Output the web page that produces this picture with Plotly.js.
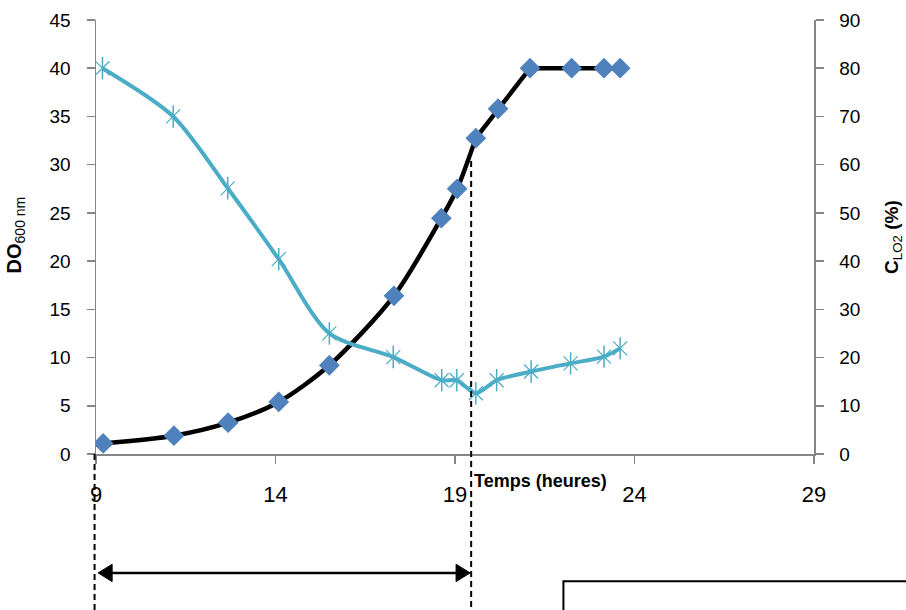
<!DOCTYPE html>
<html>
<head>
<meta charset="utf-8">
<script src="https://cdn.plot.ly/plotly-3.0.1.min.js"></script>
<style>html,body{margin:0;padding:0;background:#fff;}#chart{width:906px;height:610px;}</style>
</head>
<body>
<div id="chart"></div>
<script>
// Time (hours)
const timeDO = [9.2, 11.17, 12.68, 14.09, 15.5, 17.3, 18.62, 19.06, 19.58, 20.2, 21.09, 22.25, 23.15, 23.6];
// Optical density DO 600 nm (left axis)
const valuesDO = [1.1, 1.9, 3.25, 5.4, 9.2, 16.4, 24.45, 27.5, 32.75, 35.8, 40, 40, 40, 40];
// Dissolved oxygen CLO2 % (right axis)
const timeO2 = [9.18, 11.15, 12.67, 14.09, 15.5, 17.28, 18.63, 19.05, 19.58, 20.16, 21.12, 22.22, 23.15, 23.6];
const valuesO2 = [80, 70, 55.1, 40.4, 25, 20.1, 15.3, 15.3, 12.6, 15.3, 17.1, 18.8, 20.2, 21.9];
const xTicks = [9, 14, 19, 24, 29];

const nSmooth = 9; // smoothed part of the DO curve
const traces = [
  {x: timeO2, y: valuesO2, yaxis: 'y2', mode: 'lines', line: {color: '#4bacc6', width: 4, shape: 'spline', smoothing: 0.8}, hoverinfo: 'skip'},
  {x: timeO2, y: valuesO2, yaxis: 'y2', mode: 'markers', marker: {symbol: 'x-thin-open', size: 14, color: '#4bacc6', line: {color: '#5ec3dc', width: 1.2}}},
  {x: timeO2, y: valuesO2, yaxis: 'y2', mode: 'markers', marker: {symbol: 'line-ns-open', size: 16, color: '#4bacc6', line: {color: '#4bacc6', width: 1.5}}},
  {x: timeDO.slice(0, nSmooth), y: valuesDO.slice(0, nSmooth), mode: 'lines', line: {color: '#000', width: 4.5, shape: 'spline', smoothing: 0.8}},
  {x: timeDO.slice(nSmooth - 1), y: valuesDO.slice(nSmooth - 1), mode: 'lines', line: {color: '#000', width: 4.5}},
  {x: timeDO, y: valuesDO, mode: 'markers', marker: {symbol: 'diamond', size: 16, color: '#4f81bd'}}
];

const axisCommon = {showline: true, linecolor: '#868686', linewidth: 1.5, ticks: 'outside', ticklen: 8, tickcolor: '#868686', tickwidth: 1.5, showgrid: false, zeroline: false, fixedrange: true};

const layout = {
  width: 906, height: 610,
  margin: {l: 96, r: 92, t: 20, b: 156},
  paper_bgcolor: '#fff', plot_bgcolor: '#fff',
  showlegend: false,
  xaxis: Object.assign({}, axisCommon, {range: [9, 29], tickvals: xTicks, ticktext: xTicks.map(String), ticklabelstandoff: 12,
    tickfont: {family: '"Liberation Sans", sans-serif', size: 22, color: '#000'}}),
  yaxis: Object.assign({}, axisCommon, {range: [0, 45], dtick: 5, tick0: 0, ticklabelstandoff: 12,
    tickfont: {family: '"Liberation Sans", sans-serif', size: 19, color: '#000'}}),
  yaxis2: Object.assign({}, axisCommon, {range: [0, 90], dtick: 10, tick0: 0, overlaying: 'y', side: 'right', ticklabelstandoff: 12,
    tickfont: {family: '"Liberation Sans", sans-serif', size: 19, color: '#000'}}),
  annotations: [
    {text: '<b>Temps (heures)</b>', xref: 'paper', yref: 'paper', x: 0.523, y: -0.062, xanchor: 'left', yanchor: 'middle', showarrow: false,
      font: {family: '"Liberation Sans", sans-serif', size: 18, color: '#000'}},
    {text: '<b>DO</b><sub>600 nm</sub>', xref: 'paper', yref: 'paper', x: -0.112, y: 0.505, xanchor: 'center', yanchor: 'middle', textangle: -90, showarrow: false,
      font: {family: '"Liberation Sans", sans-serif', size: 20, color: '#000'}},
    {text: '<b>C</b><sub>LO2</sub><b> (%)</b>', xref: 'paper', yref: 'paper', x: 1.11, y: 0.5, xanchor: 'center', yanchor: 'middle', textangle: -90, showarrow: false,
      font: {family: '"Liberation Sans", sans-serif', size: 19, color: '#000'}}
  ],
  shapes: [
    {type: 'line', xref: 'paper', yref: 'paper', x0: -0.002, x1: -0.002, y0: 0, y1: -0.37, line: {color: '#000', width: 2, dash: '6px,4px'}},
    {type: 'line', xref: 'x', yref: 'paper', x0: 19.45, x1: 19.45, y0: 0.675, y1: -0.37, line: {color: '#000', width: 2, dash: '6px,4px'}},
    {type: 'line', xref: 'x', yref: 'paper', x0: 9.4, x1: 19.1, y0: -0.274, y1: -0.274, line: {color: '#000', width: 2.5}},
    {type: 'path', xref: 'x', yref: 'paper', path: 'M 9.06 -0.274 L 9.45 -0.254 L 9.45 -0.294 Z', fillcolor: '#000', line: {color: '#000', width: 1}},
    {type: 'path', xref: 'x', yref: 'paper', path: 'M 19.42 -0.274 L 19.03 -0.254 L 19.03 -0.294 Z', fillcolor: '#000', line: {color: '#000', width: 1}},
    {type: 'rect', xref: 'paper', yref: 'paper', x0: 0.651, x1: 1.3, y0: -0.293, y1: -0.5, fillcolor: 'rgba(0,0,0,0)', line: {color: '#000', width: 2}}
  ]
};

Plotly.newPlot('chart', traces, layout, {displayModeBar: false, staticPlot: true});
</script>
</body>
</html>
